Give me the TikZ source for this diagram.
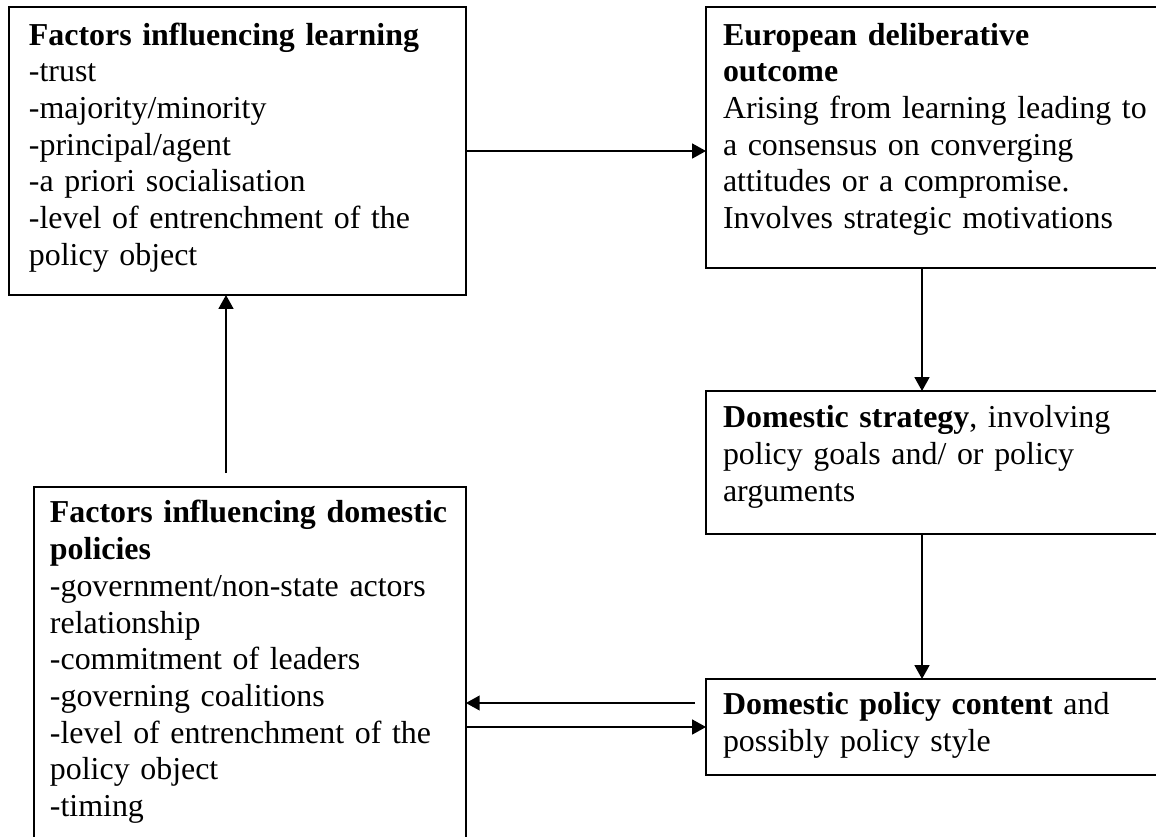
\documentclass[tikz,border=0pt]{standalone}
\usepackage{fontspec}
\setmainfont{Liberation Serif}
\usetikzlibrary{arrows.meta}
\begin{document}
\begin{tikzpicture}[x=0.376pt, y=-0.376pt,
  box/.style={draw, line width=0.75pt, anchor=north west, outer sep=0pt, inner ysep=0pt, align=left, font=\fontsize{12}{13.8}\selectfont},
  link/.style={line width=0.6pt, -{Triangle[length=5.2pt, width=5.6pt]}}]
\useasboundingbox (0,0) rectangle (1156,837);
\clip (0,0) rectangle (1156,837);

\node[box, inner xsep=7.5pt, text width=156.8pt, text height=14.3pt, text depth=94pt] (learn) at (9,7) {\textbf{Factors influencing learning}\\-trust\\-majority/minority\\-principal/agent\\-a priori socialisation\\-level of entrenchment of the\\policy object};
\node[box, inner xsep=6.4pt, text width=161.7pt, text height=14.3pt, text depth=83.8pt] (outcome) at (706,7) {\textbf{European deliberative}\\\textbf{outcome}\\Arising from learning leading to\\a consensus on converging\\attitudes or a compromise.\\Involves strategic motivations};
\node[box, inner xsep=6.4pt, text width=161.7pt, text height=13.9pt, text depth=39.9pt] (strategy) at (706,391) {\textbf{Domestic strategy}, involving\\policy goals and/ or policy\\arguments};
\node[box, inner xsep=6.4pt, text width=161.7pt, text height=13.5pt, text depth=22.6pt] (content) at (706,679) {\textbf{Domestic policy content} and\\possibly policy style};
\node[box, inner xsep=6pt, text width=150.4pt, text height=13.5pt, text depth=126.7pt] (domestic) at (34,487) {\textbf{Factors influencing domestic}\\\textbf{policies}\\-government/non-state actors\\relationship\\-commitment of leaders\\-governing coalitions\\-level of entrenchment of the\\policy object\\-timing};

\coordinate (spine) at (922,0);
\coordinate (rise) at (226,473);
\coordinate (back) at (695,703);

\draw[link] (learn.east) -- (learn.east -| outcome.west);
\draw[link] (outcome.south -| spine) -- (strategy.north -| spine);
\draw[link] (strategy.south -| spine) -- (content.north -| spine);
\draw[link] (back) -- (back -| domestic.east);
\draw[link] (domestic.east |- content.west) -- (content.west);
\draw[link] (rise) -- (rise |- learn.south);
\end{tikzpicture}
\end{document}
